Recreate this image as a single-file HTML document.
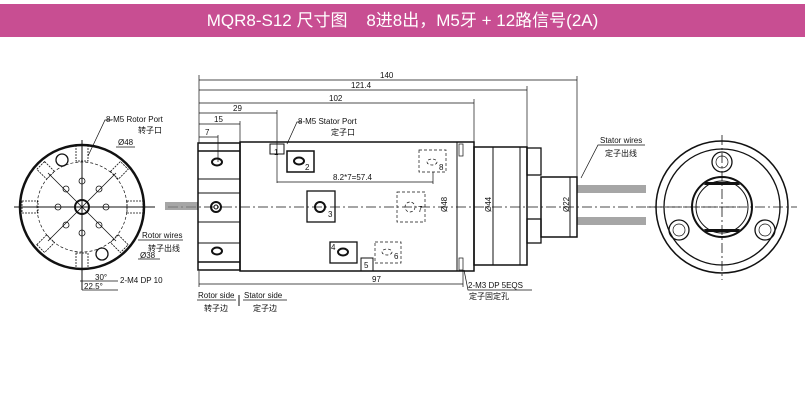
<!DOCTYPE html>
<html><head><meta charset="utf-8"><style>
body{margin:0;width:805px;height:400px;background:#fff;overflow:hidden}
.hdr{position:absolute;left:0;top:4px;width:805px;height:33px;background:#c84e92;color:#fff;font:17px "Liberation Sans","Noto Sans CJK SC",sans-serif;text-align:center;line-height:33px}
svg{position:absolute;left:0;top:0}
text{font-family:"Liberation Sans","Noto Sans CJK SC",sans-serif;font-size:8px;fill:#111;stroke:none}
</style></head><body>
<div class="hdr">MQR8-S12 尺寸图 &nbsp;&nbsp; 8进8出，M5牙 + 12路信号(2A)</div>
<svg width="805" height="400" viewBox="0 0 805 400" stroke="#111" fill="none" stroke-width="1">
<!-- left circle -->
<circle cx="82" cy="207" r="62" stroke-width="2.5"/>
<circle cx="82" cy="207" r="45" stroke-dasharray="3,2" stroke-width="0.7"/>
<line x1="14" y1="207" x2="155" y2="207"/>
<line x1="82" y1="140" x2="82" y2="290"/>
<circle cx="82" cy="207" r="7" stroke-width="2"/>
<g stroke-width="0.8">
<rect x="76" y="145" width="12" height="16" stroke-dasharray="2,1"/>
<rect x="76" y="253" width="12" height="16" stroke-dasharray="2,1"/>
<rect x="22" y="201" width="16" height="12" stroke-dasharray="2,1"/>
<rect x="127" y="201" width="16" height="12" stroke-dasharray="2,1"/>
<rect x="39" y="165" width="14" height="11" stroke-dasharray="2,1" transform="rotate(45 46 170)"/>
<rect x="112" y="165" width="14" height="11" stroke-dasharray="2,1" transform="rotate(-45 119 170)"/>
<rect x="39" y="238" width="14" height="11" stroke-dasharray="2,1" transform="rotate(-45 46 244)"/>
<rect x="112" y="238" width="14" height="11" stroke-dasharray="2,1" transform="rotate(45 119 244)"/>
<circle cx="82" cy="181" r="3"/><circle cx="82" cy="233" r="3"/>
<circle cx="58" cy="207" r="3"/><circle cx="106" cy="207" r="3"/>
<circle cx="66" cy="189" r="3"/><circle cx="99" cy="189" r="3"/>
<circle cx="66" cy="225" r="3"/><circle cx="99" cy="225" r="3"/>
<line x1="48" y1="173" x2="116" y2="241"/><line x1="116" y1="173" x2="48" y2="241"/>
</g>
<circle cx="62" cy="160" r="6" stroke-width="1.3"/>
<circle cx="102" cy="254" r="6" stroke-width="1.3"/>
<polyline points="88,156 105,120 112,120" stroke-width="0.7"/>
<line x1="116" y1="147" x2="135" y2="147" stroke-width="0.7"/>
<line x1="138" y1="259" x2="160" y2="259" stroke-width="0.7"/>
<line x1="138" y1="240" x2="183" y2="240" stroke-width="0.7"/>
<line x1="80" y1="281" x2="118" y2="281" stroke-width="0.7"/>
<line x1="82" y1="290" x2="118" y2="290" stroke-width="0.7"/>
<text x="106" y="122">8-M5  Rotor Port</text><text x="138" y="133">转子口</text>
<text x="118" y="145">Ø48</text>
<text x="142" y="238">Rotor wires</text><text x="148" y="251">转子出线</text>
<text x="140" y="258">Ø38</text>
<text x="95" y="280">30°</text><text x="84" y="289">22.5°</text>
<text x="120" y="283">2-M4 DP 10</text>
<!-- rotor wires -->
<g stroke-width="0.7"><line x1="165" y1="203" x2="198" y2="203"/><line x1="165" y1="205" x2="198" y2="205"/><line x1="165" y1="207" x2="198" y2="207"/><line x1="165" y1="209" x2="198" y2="209"/></g>
<!-- rotor block -->
<rect x="198" y="143" width="42" height="127" stroke-width="1.5"/>
<g stroke-width="1.5"><line x1="198" y1="151" x2="240" y2="151"/><line x1="198" y1="262" x2="240" y2="262"/></g>
<line x1="198" y1="179" x2="240" y2="179"/><line x1="198" y1="193" x2="240" y2="193"/>
<line x1="198" y1="222" x2="240" y2="222"/><line x1="198" y1="243" x2="240" y2="243"/>
<ellipse cx="217" cy="162" rx="5" ry="3.5" stroke-width="2"/>
<ellipse cx="217" cy="251" rx="5" ry="3.5" stroke-width="2"/>
<circle cx="216" cy="207" r="5" stroke-width="2"/><circle cx="216" cy="207" r="2"/>
<!-- body -->
<rect x="240" y="142" width="234" height="129" stroke-width="1.5"/>
<line x1="457" y1="142" x2="457" y2="271"/>
<rect x="459" y="144" width="4" height="12" stroke-width="0.7"/>
<rect x="459" y="258" width="4" height="12" stroke-width="0.7"/>
<rect x="287" y="151" width="27" height="21" stroke-width="1.5"/>
<ellipse cx="299" cy="161" rx="5" ry="3.5" stroke-width="2"/>
<rect x="307" y="191" width="28" height="31" stroke-width="1.3"/>
<circle cx="320" cy="207" r="5" stroke-width="2"/>
<rect x="330" y="242" width="27" height="21" stroke-width="1.3"/>
<ellipse cx="343" cy="252" rx="5" ry="3.5" stroke-width="2"/>
<g stroke-dasharray="3,2" stroke-width="0.7">
<rect x="419" y="150" width="27" height="22"/>
<rect x="397" y="192" width="28" height="30"/>
<rect x="375" y="242" width="26" height="21"/>
<ellipse cx="432" cy="162" rx="5" ry="3"/><ellipse cx="410" cy="207" rx="5" ry="5"/><ellipse cx="387" cy="252" rx="5" ry="3"/>
</g>
<rect x="270" y="144" width="14" height="10"/>
<rect x="361" y="258" width="12" height="13"/>
<line x1="168" y1="207" x2="740" y2="207" stroke-dasharray="10,3,2,3" stroke-width="0.7"/>
<!-- Ø44 cylinder -->
<rect x="474" y="147" width="53" height="118" stroke-width="1.5"/>
<line x1="493" y1="147" x2="493" y2="265"/><line x1="520" y1="147" x2="520" y2="265"/>
<rect x="527" y="148" width="14" height="27" stroke-width="1.3"/>
<rect x="527" y="219" width="14" height="24" stroke-width="1.3"/>
<rect x="541" y="177" width="36" height="60" stroke-width="1.5"/>
<line x1="570" y1="177" x2="570" y2="237"/>
<g stroke-width="0.8"><line x1="577" y1="186" x2="646" y2="186"/><line x1="577" y1="188" x2="646" y2="188"/><line x1="577" y1="190" x2="646" y2="190"/><line x1="577" y1="192" x2="646" y2="192"/>
<line x1="577" y1="218" x2="646" y2="218"/><line x1="577" y1="220" x2="646" y2="220"/><line x1="577" y1="222" x2="646" y2="222"/><line x1="577" y1="224" x2="646" y2="224"/></g>
<polyline points="581,178 598,145 645,145" stroke-width="0.7"/>
<text x="600" y="143">Stator wires</text><text x="605" y="156">定子出线</text>
<text x="444" y="215" transform="rotate(-90 444 212)">Ø48</text>
<text x="488" y="215" transform="rotate(-90 488 212)">Ø44</text>
<text x="566" y="215" transform="rotate(-90 566 212)">Ø22</text>
<!-- dims -->
<g stroke-width="0.7">
<line x1="199" y1="75" x2="199" y2="143"/>
<line x1="199" y1="80" x2="577" y2="80"/><line x1="577" y1="76" x2="577" y2="177"/>
<line x1="199" y1="90" x2="527" y2="90"/><line x1="527" y1="86" x2="527" y2="147"/>
<line x1="199" y1="103" x2="474" y2="103"/><line x1="474" y1="99" x2="474" y2="142"/>
<line x1="199" y1="113" x2="277" y2="113"/><line x1="277" y1="110" x2="277" y2="183"/>
<line x1="199" y1="124" x2="240" y2="124"/><line x1="240" y1="121" x2="240" y2="142"/>
<line x1="199" y1="137" x2="218" y2="137"/><line x1="218" y1="135" x2="218" y2="162"/>
<line x1="277" y1="182" x2="433" y2="182"/><line x1="433" y1="172" x2="433" y2="184"/>
<line x1="199" y1="271" x2="199" y2="287"/>
<line x1="199" y1="284" x2="463" y2="284"/><line x1="463" y1="270" x2="463" y2="287"/>
<polyline points="464,270 468,290 532,290"/>
<polyline points="287,144 297,122 302,122"/>
<line x1="197" y1="300" x2="236" y2="300"/><line x1="243" y1="300" x2="287" y2="300"/>
<line x1="239" y1="295" x2="239" y2="306" stroke-width="1"/>
</g>
<text x="380" y="78">140</text><text x="351" y="88">121.4</text><text x="329" y="101">102</text>
<text x="233" y="111">29</text><text x="214" y="122">15</text><text x="205" y="135">7</text>
<text x="333" y="180">8.2*7=57.4</text><text x="372" y="282">97</text>
<text x="298" y="124">8-M5  Stator Port</text><text x="331" y="135">定子口</text>
<text x="468" y="288">2-M3 DP 5EQS</text><text x="469" y="299">定子固定孔</text>
<text x="198" y="298">Rotor side</text><text x="204" y="311">转子边</text>
<text x="244" y="298">Stator side</text><text x="253" y="311">定子边</text>
<text x="274" y="155">1</text><text x="305" y="170">2</text><text x="328" y="217">3</text><text x="331" y="250">4</text><text x="364" y="268">5</text><text x="394" y="259">6</text><text x="418" y="212">7</text><text x="439" y="170">8</text>
<!-- right circle -->
<circle cx="722" cy="207" r="66" stroke-width="1.5"/>
<circle cx="722" cy="207" r="58" stroke-width="1.3"/>
<circle cx="722" cy="207" r="30" stroke-width="2"/>
<circle cx="722" cy="207" r="26" stroke-width="1"/>
<path d="M706,182 L738,182 L740,185 L704,185 Z" fill="#111" stroke="none"/>
<path d="M706,232 L738,232 L740,229 L704,229 Z" fill="#111" stroke="none"/>
<circle cx="722" cy="162" r="10" stroke-width="1.3"/><circle cx="722" cy="162" r="6" stroke-width="0.7"/>
<circle cx="679" cy="230" r="10" stroke-width="1.3"/><circle cx="679" cy="230" r="6" stroke-width="0.7"/>
<circle cx="765" cy="230" r="10" stroke-width="1.3"/><circle cx="765" cy="230" r="6" stroke-width="0.7"/>
<line x1="647" y1="207" x2="797" y2="207" stroke-dasharray="10,3,2,3" stroke-width="0.8"/>
<line x1="722" y1="135" x2="722" y2="280" stroke-dasharray="10,3,2,3" stroke-width="0.8"/>
</svg>
</body></html>
